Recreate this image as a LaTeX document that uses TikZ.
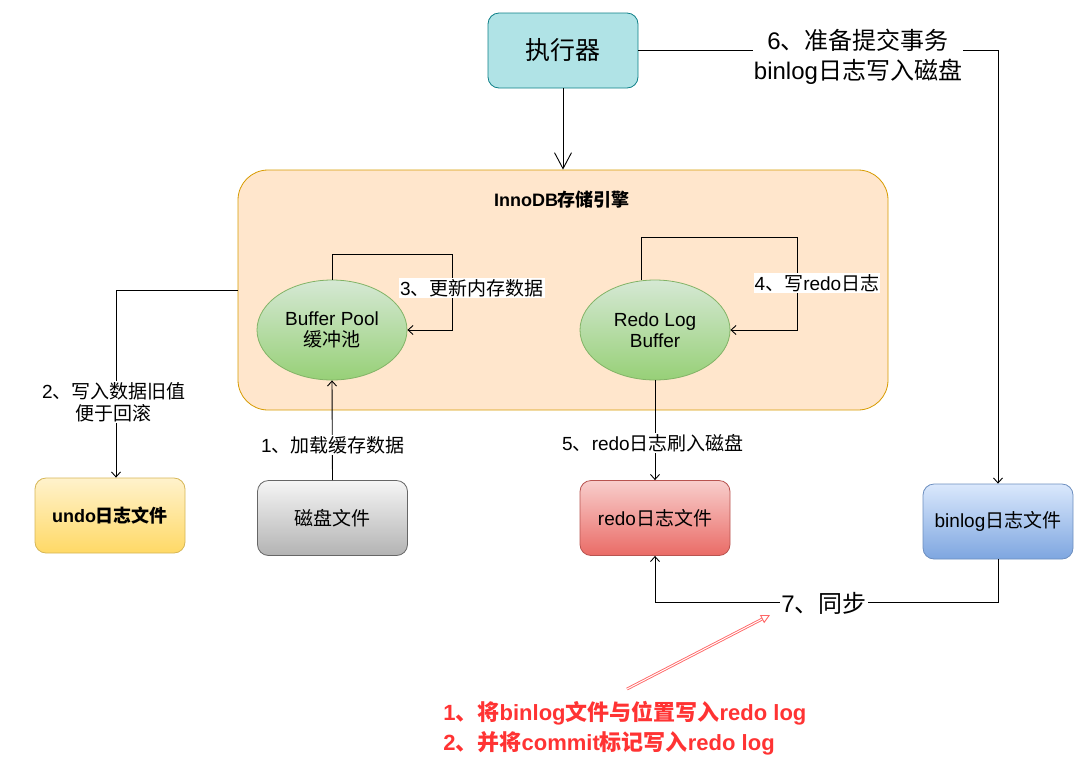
\documentclass[tikz,border=0pt]{standalone}
\usepackage{fontspec}
\setmainfont{Noto Sans CJK SC}
\newfontfamily\lat{Liberation Sans}
\usetikzlibrary{arrows.meta,calc,shapes.geometric}
\definecolor{execF}{HTML}{B0E3E6}
\definecolor{execD}{HTML}{0E8088}
\definecolor{innoF}{HTML}{FFE6CC}
\definecolor{innoD}{HTML}{D79B00}
\definecolor{ellT}{HTML}{D5E8D4}
\definecolor{ellB}{HTML}{97D077}
\definecolor{ellD}{HTML}{82B366}
\definecolor{undoT}{HTML}{FFF2CC}
\definecolor{undoB}{HTML}{FFD966}
\definecolor{undoD}{HTML}{D6B656}
\definecolor{diskT}{HTML}{F5F5F5}
\definecolor{diskB}{HTML}{B3B3B3}
\definecolor{diskD}{HTML}{666666}
\definecolor{redoT}{HTML}{F8CECC}
\definecolor{redoB}{HTML}{EA6B66}
\definecolor{redoD}{HTML}{B85450}
\definecolor{binT}{HTML}{DAE8FC}
\definecolor{binB}{HTML}{7EA6E0}
\definecolor{binD}{HTML}{6C8EBF}
\definecolor{noteT}{HTML}{FF3333}
\definecolor{noteA}{HTML}{FF6666}
\begin{document}
\begin{tikzpicture}[x=1pt,y=-1pt,
  line width=0.9pt,
  arr/.style={draw=black, -{Straight Barb[length=5pt,width=9pt]}},
  bigarr/.style={draw=black, -{Straight Barb[length=16pt,width=17pt]}},
  box/.style={rectangle, rounded corners=11pt, minimum width=150pt, minimum height=75pt,
    line width=0.8pt, align=center, font=\fontsize{19}{22}\selectfont},
  ell/.style={ellipse, minimum width=150pt, minimum height=100pt, draw=ellD,
    top color=ellT, bottom color=ellB, line width=0.8pt, align=center,
    font=\fontsize{19}{21}\selectfont, inner sep=0pt},
  lbl/.style={fill=white, inner sep=1pt, align=center, font=\fontsize{19}{22}\selectfont},
  biglbl/.style={fill=white, inner sep=1pt, align=center, font=\fontsize{24}{30}\selectfont},
  notearr/.style={draw=noteA, line width=0.9pt},
]
\useasboundingbox (0,0) rectangle (1079,756);

% nodes
\node[box, fill=execF, draw=execD, font=\fontsize{25}{28}\selectfont] (exec) at (563,50.5) {执行器};
\node[rectangle, rounded corners=30pt, minimum width=650pt, minimum height=240pt,
  fill=innoF, draw=innoD, line width=0.8pt] (inno) at (563,290) {};
\node[font=\bfseries\fontsize{18}{20}\selectfont] (innot) at (562,200) {{\lat InnoDB}存储引擎};
\node[ell] (bp) at (332,330) {{\lat Buffer Pool}\\缓冲池};
\node[ell] (rlb) at (655,330) {{\lat Redo Log}\\{\lat Buffer}};
\node[box, top color=undoT, bottom color=undoB, draw=undoD,
  font=\bfseries\fontsize{18}{20}\selectfont] (undo) at (110,515.5) {{\lat undo}日志文件};
\node[box, top color=diskT, bottom color=diskB, draw=diskD] (disk) at (332.5,518) {磁盘文件};
\node[box, top color=redoT, bottom color=redoB, draw=redoD] (redo) at (655,518) {{\lat redo}日志文件};
\node[box, top color=binT, bottom color=binB, draw=binD] (bin) at (998,521.5) {{\lat binlog}日志文件};

% connectors
\draw[bigarr] (exec.south) -- (inno.north);
\draw[arr] (exec.east) -- (exec.east -| bin.north) -- (bin.north);
\draw[arr] (inno.west) -| ([xshift=6pt]undo.north);
\draw[arr] (disk.north) -- (bp.south);
\draw[arr] (rlb.south) -- (redo.north);
\draw[arr] (bp.north) -- ++(0,-25) -- ++(120,0) |- (bp.east);
\draw[arr] ([xshift=-14pt]rlb.north) -- ++(0,-42) -- ++(156,0) |- (rlb.east);
\coordinate (c7) at ($(bin.south)+(0,43)$);
\draw[arr] (bin.south) -- (c7) -| (redo.south);

% labels
\node[biglbl] (l6) at (858,57) {{\lat 6}、准备提交事务\\{\lat binlog}日志写入磁盘};
\node[lbl] (l2) at (114,402) {{\lat 2}、写入数据旧值\\便于回滚};
\node[lbl] (l1) at (333,445) {{\lat 1}、加载缓存数据};
\node[lbl] (l5) at (653,443) {{\lat 5}、{\lat redo}日志刷入磁盘};
\node[lbl] (l3) at (472,288) {{\lat 3}、更新内存数据};
\node[lbl] (l4) at (817,283) {{\lat 4}、写{\lat redo}日志};
\node[biglbl] (l7) at (824,603) {{\lat 7}、同步};

% note
\node[font=\bfseries\fontsize{22}{30}\selectfont, text=noteT, align=left, anchor=west, inner sep=2pt]
  (note) at (441,728) {{\lat 1}、将{\lat binlog}文件与位置写入{\lat redo log}\\{\lat 2}、并将{\lat commit}标记写入{\lat redo log}};
\coordinate (rt) at (627,689);
\coordinate (rh) at (770,615);
\draw[notearr, double=white, double distance=1pt, shorten >=9pt] (rt) -- (rh);
\draw[notearr, -{Triangle[open, length=9pt, width=9pt]}] ($(rh)!9pt!(rt)$) -- (rh);
\end{tikzpicture}
\end{document}
